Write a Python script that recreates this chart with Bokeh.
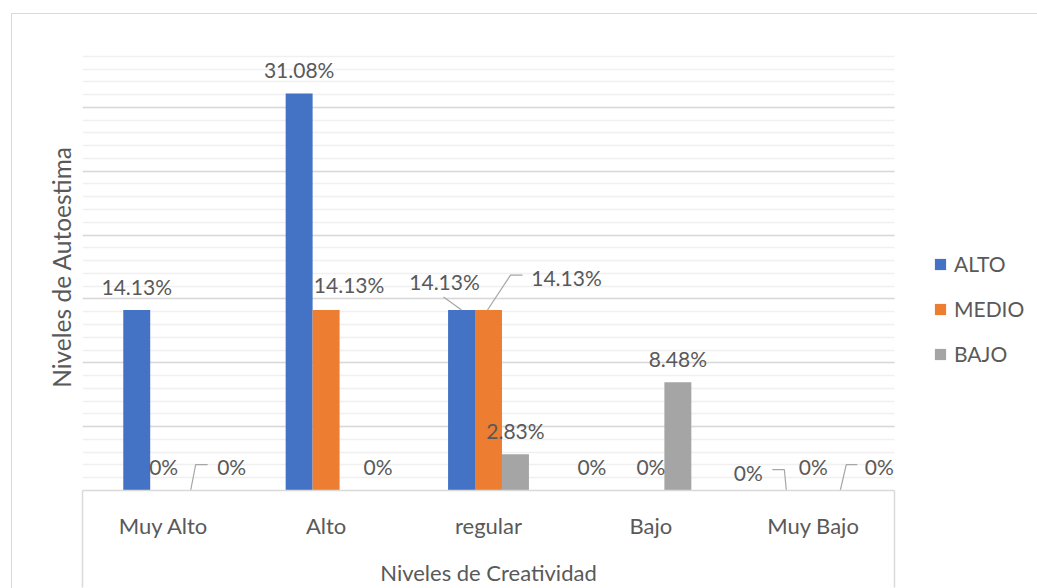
import numpy as np
from bokeh.plotting import figure
from bokeh.models import (ColumnDataSource, Range1d, FixedTicker, Legend, LegendItem,
                          CustomJSTickFormatter, LinearAxis)
from bokeh.core.properties import value
from bokeh.embed import file_html
from bokeh.resources import INLINE

# ---------------- data ----------------
categories = ["Muy Alto", "Alto", "regular", "Bajo", "Muy Bajo"]
series_names = ["ALTO", "MEDIO", "BAJO"]
alto = [14.13, 31.08, 14.13, 0.0, 0.0]
medio = [0.0, 14.13, 14.13, 0.0, 0.0]
bajo = [0.0, 0.0, 2.83, 8.48, 0.0]
y_major_ticks = [0, 5, 10, 15, 20, 25, 30, 35]
y_minor_ticks = list(range(0, 36))
x_title = "Niveles de Creatividad"
y_title = "Niveles de Autoestima"

# ---------------- style ----------------
colors = ["#4472C4", "#ED7D31", "#A5A5A5"]
FONT = "Lato"
TXT = "#595959"
GRID = "#d9d9d9"
MINOR = "#f0f0f0"
LEADER = "#a6a6a6"

OX, OY = 12, 14                  # chart-area offset inside the page
W, H = 1037 - OX, 588 - OY       # figure size
L, R, T, B = 82 - OX, 894 - OX, 43 - OY, 491 - OY   # plot area in canvas px
YMAX = 35
NCAT = len(categories)
bar_w = 0.166
offsets = [-0.166, 0.0, 0.166]

# data-label pixel nudges (x, y) per series per category
label_dx = [[0, 0, -17, -32, -38],
            [0, 23, 78, 0, 0],
            [41, 25, 0, 0, 39]]
label_dy = [[0, 0, -5, 0, 6],
            [0, -2, -9, 0, 0],
            [0, 0, 0, 0, 0]]
LABEL_RISE = -24
# leader lines: (series, category, relative pixel points from bar top)
leaders = [
    (2, 0, [(0, 0), (5, -26), (17, -26)]),
    (0, 2, [(0, 0), (-18, -13)]),
    (1, 2, [(-1, 0), (22, -35), (34, -35)]),
    (0, 4, [(0, 0), (-2, -21), (-14, -21)]),
    (2, 4, [(0, 0), (6, -26), (17, -26)]),
]

values = [alto, medio, bajo]
xc = np.arange(NCAT) + 0.5
px_x = (R - L) / NCAT
px_y = (B - T) / YMAX
x_end = NCAT * (W - L) / (R - L)   # frame runs on to the right edge (room for legend)

p = figure(width=W, height=H,
           x_range=Range1d(0, x_end), y_range=Range1d(0, YMAX),
           output_backend="svg", toolbar_location=None,
           min_border_left=L, min_border_right=0,
           min_border_top=T, min_border_bottom=H - B)
p.styles = {"margin-left": f"{OX}px", "margin-top": f"{OY}px",
            "outline": f"1.5px solid {GRID}"}
p.outline_line_color = None
p.background_fill_color = "white"
p.border_fill_color = "white"

# grid
yt = FixedTicker(ticks=y_major_ticks, minor_ticks=y_minor_ticks)
p.yaxis.ticker = yt
p.ygrid.ticker = yt
p.ygrid.cross_bounds = (0, NCAT)
p.ygrid.grid_line_color = GRID
p.ygrid.grid_line_width = 1.5
p.ygrid.minor_grid_line_color = MINOR
p.ygrid.minor_grid_line_width = 1.5
p.xgrid.visible = False

# y axis: only title
ya = p.yaxis[0]
ya.formatter = CustomJSTickFormatter(code="return '';")
ya.axis_line_color = None
ya.major_tick_line_color = None
ya.minor_tick_line_color = None
ya.major_tick_out = 0
ya.major_tick_in = 0
ya.minor_tick_out = 0
ya.minor_tick_in = 0
ya.major_label_standoff = 0
ya.axis_label = y_title
ya.axis_label_text_font = FONT
ya.axis_label_text_font_size = "24.5px"
ya.axis_label_text_font_style = "normal"
ya.axis_label_text_color = TXT
ya.axis_label_standoff = 7

# x axis: category labels + box lines at the ends
TICK_LEN = H - B
xa = p.xaxis[0]
xa.bounds = (0, NCAT)
xa.ticker = FixedTicker(ticks=list(xc), minor_ticks=[0, NCAT])
xa.formatter = CustomJSTickFormatter(args=dict(cats=categories),
                                     code="return cats[Math.floor(tick)] || '';")
xa.axis_line_color = GRID
xa.axis_line_width = 1.5
xa.major_tick_line_color = None
xa.major_tick_out = 0
xa.major_tick_in = 0
xa.minor_tick_out = TICK_LEN
xa.minor_tick_in = 0
xa.minor_tick_line_color = GRID
xa.minor_tick_line_width = 1.5
xa.major_label_standoff = 21 - TICK_LEN
xa.major_label_text_font = FONT
xa.major_label_text_font_size = "22px"
xa.major_label_text_color = TXT

# x axis title, centred under the categories
xt = LinearAxis(ticker=FixedTicker(ticks=[NCAT / 2]),
                formatter=CustomJSTickFormatter(args=dict(t=x_title), code="return t;"),
                bounds=(0, NCAT))
xt.axis_line_color = None
xt.major_tick_line_color = None
xt.minor_tick_line_color = None
xt.major_tick_out = 0
xt.major_tick_in = 0
xt.minor_tick_out = 0
xt.minor_tick_in = 0
xt.major_label_standoff = 17
xt.major_label_text_font = FONT
xt.major_label_text_font_size = "22px"
xt.major_label_text_color = TXT
p.add_layout(xt, "below")

# bars
renderers = []
for i, name in enumerate(series_names):
    src = ColumnDataSource(dict(x=xc + offsets[i], top=values[i]))
    r = p.vbar(x="x", top="top", width=bar_w, bottom=0, source=src,
               fill_color=colors[i], line_color=None)
    renderers.append(r)

# data labels
lx, ly, lt, ldx, ldy = [], [], [], [], []
for i in range(len(series_names)):
    for j in range(NCAT):
        v = values[i][j]
        lx.append(xc[j] + offsets[i])
        ly.append(v)
        lt.append(f"{v:g}%")
        ldx.append(label_dx[i][j])
        ldy.append(LABEL_RISE + label_dy[i][j])
lsrc = ColumnDataSource(dict(x=lx, y=ly, t=lt, dx=ldx, dy=ldy))
p.text(x="x", y="y", text="t", x_offset="dx", y_offset="dy", source=lsrc,
       text_font=value(FONT), text_font_size="21px", text_color=TXT,
       text_align="center", text_baseline="middle")

# leader lines
xs, ys = [], []
for si, cj, pts in leaders:
    bx = xc[cj] + offsets[si]
    by = values[si][cj]
    xs.append([bx + dx / px_x for dx, dy in pts])
    ys.append([by - dy / px_y for dx, dy in pts])
p.multi_line(xs=xs, ys=ys, line_color=LEADER, line_width=1.2)

# legend
legend = Legend(items=[LegendItem(label=n, renderers=[r]) for n, r in zip(series_names, renderers)],
                location=(935 - 84, 124))
legend.glyph_width = 14
legend.glyph_height = 14
legend.label_standoff = 7
legend.label_text_font = FONT
legend.label_text_font_size = "21px"
legend.label_text_color = TXT
legend.spacing = 20
legend.padding = 0
legend.margin = 0
legend.border_line_color = None
legend.background_fill_alpha = 0
p.add_layout(legend)

open("out.html", "w").write(file_html(p, INLINE))
